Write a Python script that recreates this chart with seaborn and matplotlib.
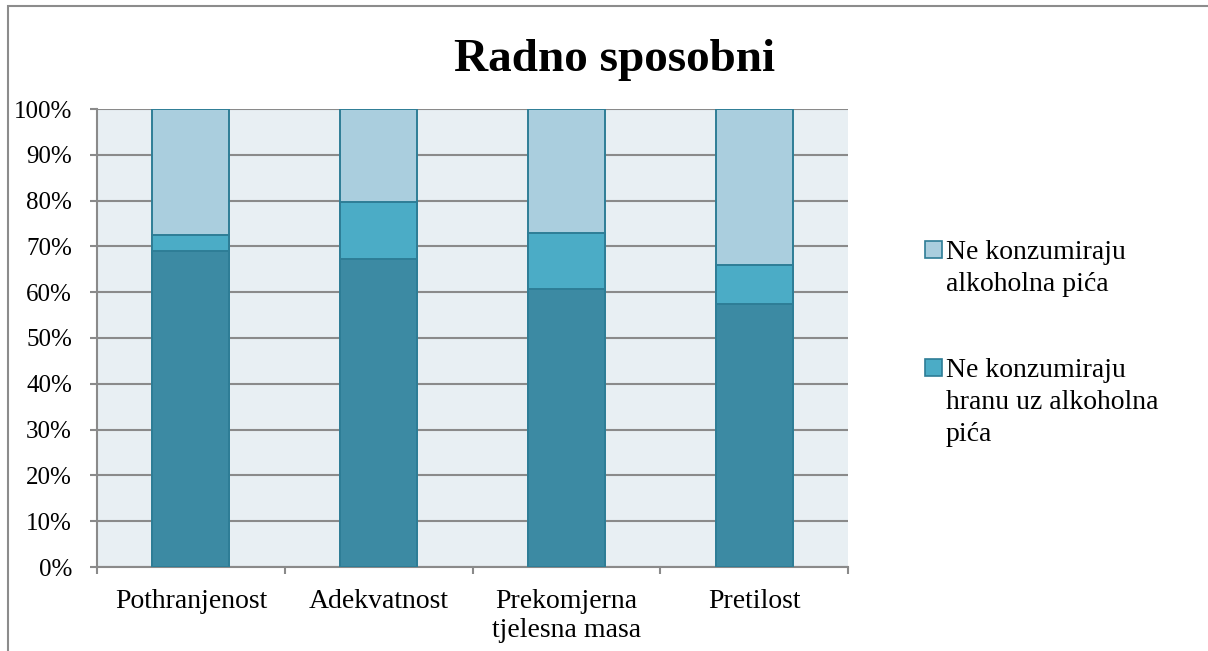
import matplotlib
matplotlib.use("Agg")
import matplotlib.pyplot as plt
from matplotlib.patches import Rectangle
from matplotlib.ticker import FixedLocator, FuncFormatter
import seaborn as sns
import pandas as pd
import numpy as np

categories = ["Pothranjenost", "Adekvatnost", "Prekomjerna\ntjelesna masa", "Pretilost"]
konzumiraju_s_hranom = [69.0, 67.3, 60.6, 57.5]          # dark bottom segment (no legend entry)
ne_konzumiraju_hranu = [3.5, 12.3, 12.3, 8.4]            # middle segment
ne_konzumiraju_alkohol = [27.5, 20.4, 27.1, 34.1]        # top segment
legend_labels = ["Ne konzumiraju\nalkoholna pića", "Ne konzumiraju\nhranu uz alkoholna\npića"]
title = "Radno sposobni"

c_dark = "#3C8AA3"
c_mid = "#4BACC6"
c_light = "#AACEDE"
c_edge = "#2E7D96"
c_grid = "#8A8A8A"

sns.set_style("white")
plt.rcParams["font.family"] = ["Liberation Serif", "DejaVu Serif"]
plt.rcParams["text.color"] = "black"
plt.rcParams["xtick.labelcolor"] = "black"
plt.rcParams["ytick.labelcolor"] = "black"

W, H = 1208, 651
fig = plt.figure(figsize=(W / 100, H / 100), dpi=100)
ax = fig.add_axes([97 / W, 1 - 567 / H, (848 - 97) / W, (567 - 109) / H])
ax.set_facecolor("#E8EFF3")

df = pd.DataFrame({
    "cat": categories,
    "dark": konzumiraju_s_hranom,
    "mid": ne_konzumiraju_hranu,
    "light": ne_konzumiraju_alkohol,
})
df["top_total"] = df["dark"] + df["mid"] + df["light"]
df["mid_total"] = df["dark"] + df["mid"]

common = dict(x="cat", order=categories, width=0.41, edgecolor=c_edge, linewidth=1.4, ax=ax, zorder=3)
sns.barplot(data=df, y="top_total", color=c_light, saturation=1, **common)
sns.barplot(data=df, y="mid_total", color=c_mid, saturation=1, **common)
sns.barplot(data=df, y="dark", color=c_dark, saturation=1, **common)

ax.set_xlim(-0.5, len(categories) - 0.5)
ax.set_ylim(0, 100)
ax.set_xlabel("")
ax.set_ylabel("")

yt = np.arange(0, 101, 10)
ax.yaxis.set_major_locator(FixedLocator(yt))
ax.yaxis.set_major_formatter(FuncFormatter(lambda v, p: f"{int(round(v))}%"))
ax.yaxis.grid(True, color=c_grid, linewidth=1.5, zorder=0)
ax.set_axisbelow(True)
ax.tick_params(axis="y", which="major", length=5, width=1.5, color=c_grid, pad=13, labelsize=18,
               left=True, labelcolor="black")

# x: boundary ticks as major, labels on minor centred ticks
ax.xaxis.set_major_locator(FixedLocator(np.arange(-0.5, len(categories), 1.0)))
ax.xaxis.set_major_formatter(FuncFormatter(lambda v, p: ""))
ax.xaxis.set_minor_locator(FixedLocator(np.arange(len(categories))))
ax.set_xticklabels(categories, minor=True)
ax.tick_params(axis="x", which="major", length=5, width=1.5, color=c_grid, bottom=True, direction="out")
ax.tick_params(axis="x", which="minor", length=0, pad=16, labelsize=20, labelcolor="black")
for lbl in ax.get_xticklabels(minor=True):
    lbl.set_linespacing(1.22)

for s in ["top", "right"]:
    ax.spines[s].set_visible(False)
for s in ["left", "bottom"]:
    ax.spines[s].set_color(c_grid)
    ax.spines[s].set_linewidth(1.5)

# title
fig.text(615 / W, 1 - 71 / H, title, ha="center", va="baseline", fontsize=34, fontweight="bold",
         color="black")

# legend (drawn manually, handle aligned with the first line)
line_step = 32
leg_items = [(c_light, legend_labels[0], 259), (c_mid, legend_labels[1], 377)]
for col, lab, base in leg_items:
    fig.add_artist(Rectangle((925 / W, 1 - (base - 1) / H), 17 / W, 17 / H,
                             transform=fig.transFigure, facecolor=col, edgecolor=c_edge, linewidth=1.2))
    for i, line in enumerate(lab.split("\n")):
        fig.text(946 / W, 1 - (base + i * line_step) / H, line, ha="left", va="baseline",
                 fontsize=20, color="black")

# chart-area border
fig.add_artist(Rectangle((8 / W, -0.05), 1.1, 1 - 6 / H + 0.05, transform=fig.transFigure,
                         facecolor="none", edgecolor="#8C8C8C", linewidth=1.5))

fig.savefig("out.png", dpi=100)
